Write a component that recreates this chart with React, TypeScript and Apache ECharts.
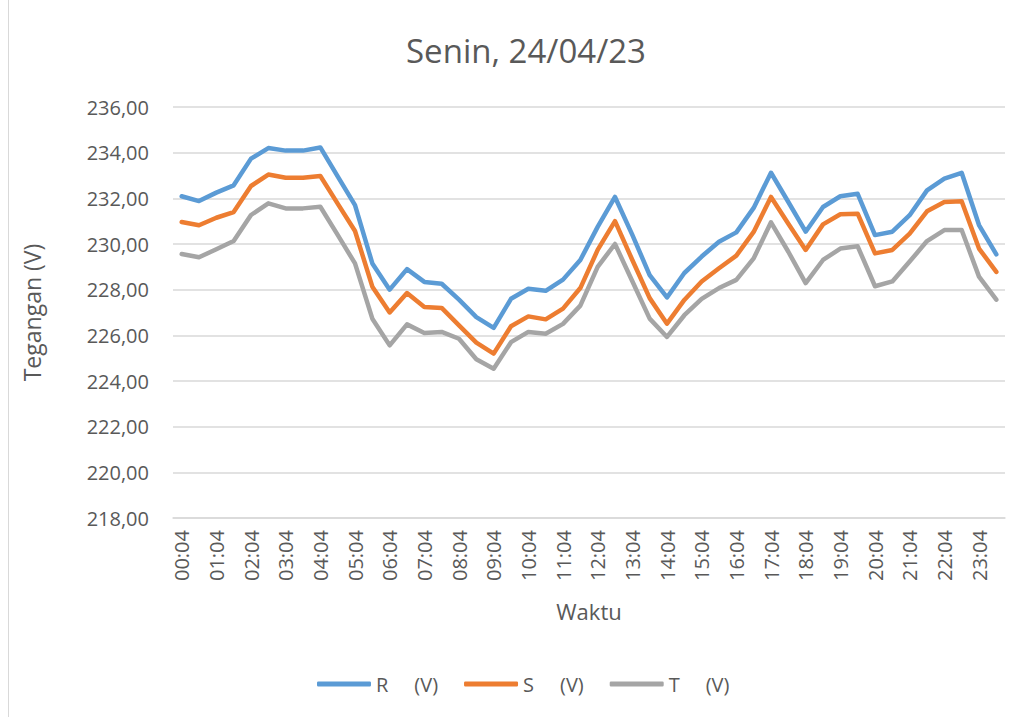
import React, { useEffect, useRef } from "react";
import * as echarts from "echarts";

const times: string[] = [
  "00:04","00:34","01:04","01:34","02:04","02:34","03:04","03:34","04:04","04:34",
  "05:04","05:34","06:04","06:34","07:04","07:34","08:04","08:34","09:04","09:34",
  "10:04","10:34","11:04","11:34","12:04","12:34","13:04","13:34","14:04","14:34",
  "15:04","15:34","16:04","16:34","17:04","17:34","18:04","18:34","19:04","19:34",
  "20:04","20:34","21:04","21:34","22:04","22:34","23:04","23:34",
];

const seriesR: number[] = [
  232.09, 231.88, 232.25, 232.57, 233.74, 234.2, 234.09, 234.09, 234.23, 232.96,
  231.7, 229.15, 228.0, 228.9, 228.34, 228.26, 227.56, 226.8, 226.33, 227.6,
  228.04, 227.95, 228.44, 229.3, 230.75, 232.06, 230.4, 228.64, 227.66, 228.73,
  229.45, 230.1, 230.51, 231.58, 233.12, 231.84, 230.54, 231.62, 232.09, 232.2,
  230.39, 230.54, 231.26, 232.35, 232.86, 233.12, 230.83, 229.55,
];

const seriesS: number[] = [
  230.96, 230.82, 231.15, 231.4, 232.54, 233.04, 232.9, 232.9, 232.98, 231.77,
  230.57, 228.13, 227.0, 227.85, 227.24, 227.2, 226.44, 225.68, 225.2, 226.4,
  226.83, 226.7, 227.17, 228.07, 229.74, 231.0, 229.3, 227.63, 226.51, 227.55,
  228.36, 228.94, 229.49, 230.53, 232.06, 230.89, 229.74, 230.86, 231.3, 231.33,
  229.59, 229.74, 230.45, 231.43, 231.84, 231.87, 229.8, 228.78,
];

const seriesT: number[] = [
  229.56, 229.42, 229.77, 230.13, 231.27, 231.78, 231.56, 231.56, 231.63, 230.4,
  229.15, 226.73, 225.56, 226.48, 226.1, 226.15, 225.85, 224.95, 224.54, 225.7,
  226.15, 226.07, 226.5, 227.3, 229.0, 230.0, 228.37, 226.73, 225.93, 226.88,
  227.6, 228.07, 228.43, 229.37, 230.95, 229.66, 228.29, 229.3, 229.8, 229.9,
  228.15, 228.36, 229.23, 230.13, 230.61, 230.61, 228.57, 227.56,
];

const seriesNames: string[] = ["R     (V)", "S     (V)", "T     (V)"];
const seriesColors: string[] = ["#5B9BD5", "#ED7D31", "#A5A5A5"];

const FONT = "'Open Sans', 'Noto Sans', sans-serif";
const TXT = "#595959";

export default function App() {
  const ref = useRef<HTMLDivElement>(null);
  useEffect(() => {
    if (!ref.current) return;
    const chart = echarts.init(ref.current, undefined, { renderer: "svg" });
    const data = [seriesR, seriesS, seriesT];
    chart.setOption({
      animation: false,
      backgroundColor: "#ffffff",
      textStyle: { fontFamily: FONT },
      title: {
        text: "Senin, 24/04/23",
        left: 521,
        textAlign: "center",
        top: 29,
        textStyle: { fontFamily: FONT, fontSize: 33, fontWeight: "normal", color: TXT },
      },
      legend: {
        bottom: 18,
        left: 312,
        icon: "roundRect",
        itemWidth: 54,
        itemHeight: 5,
        itemGap: 26,
        textStyle: { fontFamily: FONT, fontSize: 20, color: TXT },
        data: seriesNames,
      },
      graphic: [
        {
          type: "line",
          shape: { x1: 8.5, y1: 0, x2: 8.5, y2: 717 },
          style: { stroke: "#D9D9D9", lineWidth: 1 },
        },
      ],
      grid: { left: 173, right: 22, top: 107, bottom: 199, containLabel: false },
      xAxis: {
        type: "category",
        data: times,
        boundaryGap: true,
        name: "Waktu",
        nameLocation: "middle",
        nameGap: 82,
        nameTextStyle: { fontFamily: FONT, fontSize: 22, color: TXT },
        axisLine: { show: true, lineStyle: { color: "#D9D9D9", width: 1.5 } },
        axisTick: { show: false },
        axisLabel: {
          interval: 1,
          rotate: 90,
          margin: 12,
          fontFamily: FONT,
          fontSize: 20,
          color: TXT,
        },
        splitLine: { show: false },
      },
      yAxis: {
        type: "value",
        min: 218,
        max: 236,
        interval: 2,
        name: "Tegangan (V)",
        nameLocation: "middle",
        nameGap: 130,
        nameRotate: 90,
        nameTextStyle: { fontFamily: FONT, fontSize: 23, color: TXT },
        axisLine: { show: false },
        axisTick: { show: false },
        axisLabel: {
          margin: 24,
          fontFamily: FONT,
          fontSize: 20,
          color: TXT,
          formatter: (v: number) => v.toFixed(2).replace(".", ","),
        },
        splitLine: { show: true, lineStyle: { color: "#D9D9D9", width: 1.5 } },
      },
      series: data.map((d, i) => ({
        name: seriesNames[i],
        type: "line",
        data: d,
        symbol: "none",
        showSymbol: false,
        color: seriesColors[i],
        lineStyle: { color: seriesColors[i], width: 4.5, cap: "round", join: "round" },
      })),
    });
    return () => chart.dispose();
  }, []);
  return (
    <div
      ref={ref}
      style={{
        position: "fixed",
        left: 0,
        top: 0,
        width: 1027,
        height: 717,
        boxSizing: "border-box",
      }}
    />
  );
}
